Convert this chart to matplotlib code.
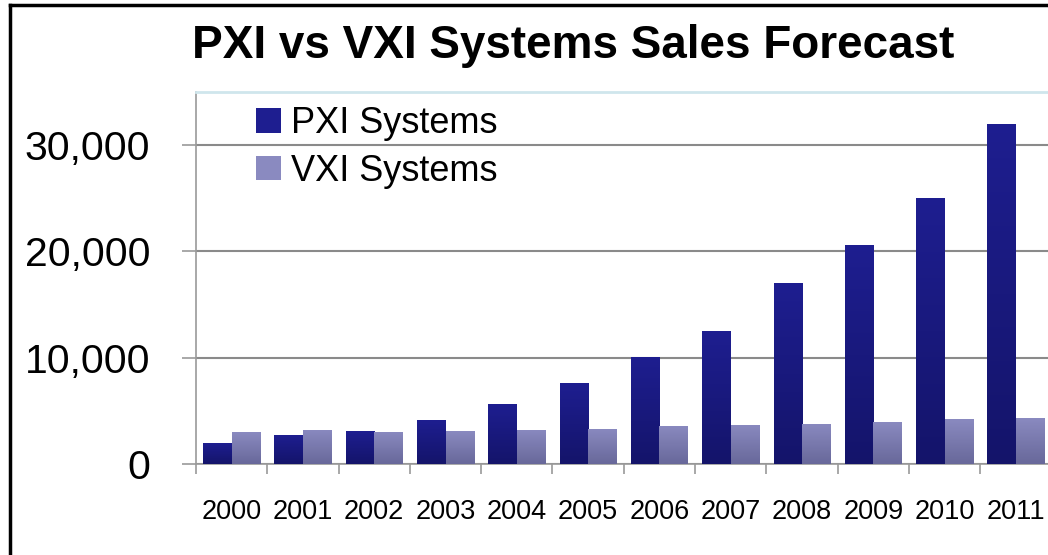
import matplotlib
matplotlib.use("Agg")
import matplotlib.pyplot as plt
import numpy as np
from matplotlib.lines import Line2D
from matplotlib.colors import LinearSegmentedColormap

years = ["2000", "2001", "2002", "2003", "2004", "2005",
         "2006", "2007", "2008", "2009", "2010", "2011"]
pxi = [1950, 2700, 3100, 4100, 5600, 7600, 10100, 12500, 17000, 20600, 25000, 32000]
vxi = [3000, 3200, 3050, 3100, 3200, 3300, 3600, 3700, 3800, 3950, 4200, 4300]
y_ticks = [0, 10000, 20000, 30000]
y_tick_labels = ["0", "10,000", "20,000", "30,000"]
series_names = ["PXI Systems", "VXI Systems"]

W, H = 1048, 555
fig = plt.figure(figsize=(W / 100, H / 100), dpi=100)
fig.patch.set_facecolor("white")

def fx(px):
    return px / W

def fy(py):
    return 1 - py / H

ax_left, ax_right, ax_top, ax_bottom = 196, 196 + 12 * 71.3, 92, 464
ax = fig.add_axes([fx(ax_left), fy(ax_bottom), fx(ax_right - ax_left), (ax_bottom - ax_top) / H])

x = np.arange(len(years))
bw = 0.4
pxi_col_top, pxi_col_bot = "#1e1e90", "#14146a"
vxi_col_top, vxi_col_bot = "#8a8ac0", "#68689a"

b1 = ax.bar(x - bw / 2, pxi, width=bw, color=pxi_col_top, zorder=3, label=series_names[0])
b2 = ax.bar(x + bw / 2, vxi, width=bw, color=vxi_col_top, zorder=3, label=series_names[1])

# gradient fills clipped to bars
grad = np.linspace(0, 1, 256).reshape(-1, 1)
for bars, ctop, cbot in ((b1, pxi_col_top, pxi_col_bot), (b2, vxi_col_top, vxi_col_bot)):
    cmap = LinearSegmentedColormap.from_list("g", [cbot, ctop])
    for r in bars:
        x0, y0 = r.get_x(), r.get_y()
        w, h = r.get_width(), r.get_height()
        im = ax.imshow(grad, extent=[x0, x0 + w, y0, y0 + h], origin="lower",
                       cmap=cmap, aspect="auto", zorder=3.5)
        im.set_clip_path(r)
ax.set_xlim(-0.5, len(years) - 0.5)
ax.set_ylim(0, 35000)

font = "Liberation Sans"

ax.set_yticks(y_ticks)
ax.set_yticklabels(y_tick_labels, fontsize=29.5, family=font)
ax.set_xticks(x)
ax.set_xticklabels(years, fontsize=19.5, family=font)
ax.set_xticks(np.arange(-0.5, len(years), 1), minor=True)

ax.tick_params(axis="y", which="major", length=10, width=1.2, color="#999999", pad=23, direction="out")
ax.tick_params(axis="x", which="major", length=0, pad=25)
ax.tick_params(axis="x", which="minor", length=7, width=1.2, color="#999999", direction="out")

ax.grid(axis="y", color="#8a8a8a", linewidth=1.5, zorder=0)
ax.set_axisbelow(True)

for s in ("left", "bottom"):
    ax.spines[s].set_color("#9a9a9a")
    ax.spines[s].set_linewidth(1.2)
ax.spines["top"].set_color("#cfe6ec")
ax.spines["top"].set_linewidth(2)
ax.spines["right"].set_visible(False)

leg = ax.legend(loc="upper left", bbox_to_anchor=(fx(256), fy(106)), bbox_transform=fig.transFigure,
                frameon=False, prop={"family": font, "size": 26},
                handlelength=0.68, handleheight=0.68, handletextpad=0.3,
                labelspacing=0.35, borderpad=0, borderaxespad=0)
leg.set_zorder(5)

fig.text(fx(573), fy(58), "PXI vs VXI Systems Sales Forecast", ha="center", va="baseline",
         fontsize=33, fontweight="bold", family=font)

# outer frame (left and top edges visible)
fig.add_artist(Line2D([fx(9.5), 1.0], [fy(5), fy(5)], transform=fig.transFigure, color="black", linewidth=2.5))
fig.add_artist(Line2D([fx(9.5), fx(9.5)], [fy(5), 0.0], transform=fig.transFigure, color="black", linewidth=2.5))

fig.savefig("out.png", dpi=100, facecolor="white")
